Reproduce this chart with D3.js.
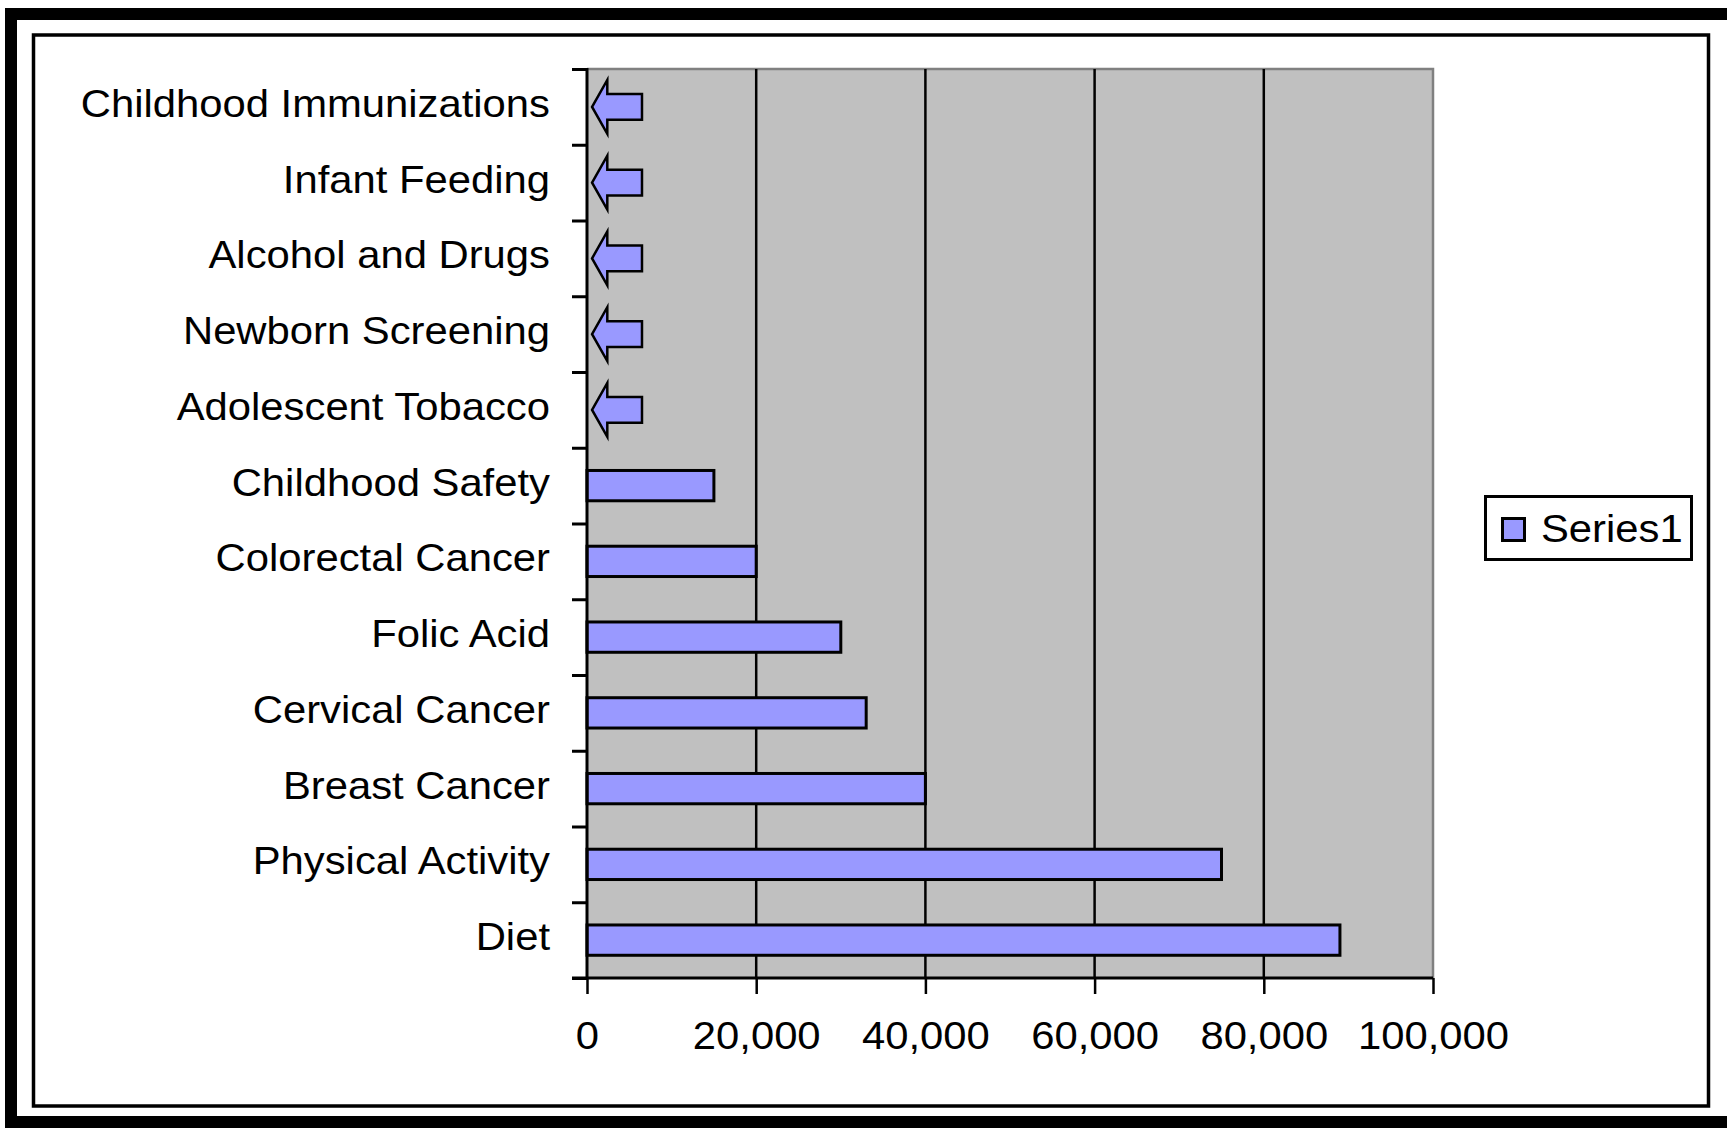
<!DOCTYPE html>
<html>
<head>
<meta charset="utf-8">
<script src="https://cdn.jsdelivr.net/npm/d3@7"></script>
<style>
  body { margin: 0; background: #fff; }
  svg { display: block; }
  text { font-family: "Liberation Sans", Arial, sans-serif; fill: #000; }
</style>
</head>
<body>
<svg id="chart" width="1727" height="1130"></svg>
<script>
// Program reach by topic (top to bottom as listed)
const categories = [
  "Childhood Immunizations", "Infant Feeding", "Alcohol and Drugs",
  "Newborn Screening", "Adolescent Tobacco", "Childhood Safety",
  "Colorectal Cancer", "Folic Acid", "Cervical Cancer",
  "Breast Cancer", "Physical Activity", "Diet"
];
const values = [0, 0, 0, 0, 0, 15000, 20000, 30000, 33000, 40000, 75000, 89000];
// Topics marked with an arrow instead of a bar
const flagged = [
  "Childhood Immunizations", "Infant Feeding", "Alcohol and Drugs",
  "Newborn Screening", "Adolescent Tobacco"
];
const xTicks = [0, 20000, 40000, 60000, 80000, 100000];
const seriesName = "Series1";

const BAR_FILL = "#9999FF";
const PLOT_BG = "#C0C0C0";
const FONT_SIZE = 38;
const STRETCH = "scale(1.1,1)";

const svg = d3.select("#chart");
const plot = { left: 587, right: 1433, top: 69, bottom: 978 };

// Outer heavy frame (right edge runs off the page)
svg.append("rect")
  .attr("x", 11).attr("y", 14).attr("width", 1760).attr("height", 1108)
  .attr("fill", "none").attr("stroke", "#000").attr("stroke-width", 12);

// Chart area border
svg.append("rect")
  .attr("x", 33.5).attr("y", 35).attr("width", 1675).attr("height", 1071)
  .attr("fill", "#fff").attr("stroke", "#000").attr("stroke-width", 3.5);

const x = d3.scaleLinear().domain([0, 100000]).range([plot.left, plot.right]);
const y = d3.scaleBand().domain(categories).range([plot.top, plot.bottom])
  .paddingInner(0.6).paddingOuter(0.3);
const slot = d3.scaleLinear().domain([0, categories.length]).range([plot.top, plot.bottom]);
const step = y.step();

// Plot background
svg.append("rect")
  .attr("x", plot.left).attr("y", plot.top)
  .attr("width", plot.right - plot.left).attr("height", plot.bottom - plot.top)
  .attr("fill", PLOT_BG);
// Plot border (top and right visible)
svg.append("path")
  .attr("d", `M${plot.left},${plot.top}H${plot.right}V${plot.bottom}`)
  .attr("fill", "none").attr("stroke", "#808080").attr("stroke-width", 2.5);

// Vertical gridlines
svg.append("g").selectAll("line")
  .data(xTicks.filter(d => d > 0 && d < 100000))
  .join("line")
  .attr("x1", d => x(d)).attr("x2", d => x(d))
  .attr("y1", plot.top).attr("y2", plot.bottom)
  .attr("stroke", "#000").attr("stroke-width", 2.5);

// Bars
svg.append("g").selectAll("rect")
  .data(categories.map((c, i) => ({ c, v: values[i] })).filter(d => d.v > 0))
  .join("rect")
  .attr("x", x(0))
  .attr("y", d => y(d.c))
  .attr("width", d => x(d.v) - x(0))
  .attr("height", y.bandwidth())
  .attr("fill", BAR_FILL)
  .attr("stroke", "#000").attr("stroke-width", 3);

// Left-pointing arrows for flagged topics
const arrowPath = c => {
  const cy = y(c) + y.bandwidth() / 2;
  const tip = x(600), base = x(2400), tail = x(6500);
  const hh = step * 0.355, sh = step * 0.17;
  return `M${tip},${cy}L${base},${cy - hh}V${cy - sh}H${tail}V${cy + sh}H${base}V${cy + hh}Z`;
};
svg.append("g").selectAll("path")
  .data(flagged)
  .join("path")
  .attr("d", arrowPath)
  .attr("fill", BAR_FILL)
  .attr("stroke", "#000").attr("stroke-width", 2.5)
  .attr("stroke-linejoin", "miter");

// Category axis: ticks on slot boundaries
const yAxis = svg.append("g")
  .attr("transform", `translate(${plot.left},0)`)
  .call(d3.axisLeft(slot).tickValues(d3.range(categories.length + 1))
    .tickSize(15).tickFormat(""));
yAxis.select(".domain").remove();
yAxis.selectAll(".tick line").attr("stroke", "#000").attr("stroke-width", 3);

// Category labels
const labels = svg.append("g").selectAll("g")
  .data(categories)
  .join("g")
  .attr("transform", d => `translate(550,${y(d) + y.bandwidth() / 2 + 10})`);
labels.append("text")
  .attr("transform", STRETCH)
  .attr("text-anchor", "end")
  .attr("font-size", FONT_SIZE)
  .text(d => d);

// Value axis
const xAxis = svg.append("g")
  .attr("transform", `translate(0,${plot.bottom})`)
  .call(d3.axisBottom(x).tickValues(xTicks).tickSize(16).tickFormat(d3.format(",")));
xAxis.select(".domain").remove();
xAxis.selectAll(".tick line").attr("stroke", "#000").attr("stroke-width", 2.5);
xAxis.selectAll(".tick text")
  .attr("y", 71).attr("dy", null)
  .attr("transform", STRETCH)
  .attr("font-size", FONT_SIZE)
  .attr("font-family", null)
  .attr("fill", "#000");

// Axis lines
svg.append("line")
  .attr("x1", plot.left).attr("x2", plot.left)
  .attr("y1", plot.top - 1).attr("y2", plot.bottom)
  .attr("stroke", "#000").attr("stroke-width", 3);
svg.append("line")
  .attr("x1", plot.left - 15).attr("x2", plot.right)
  .attr("y1", plot.bottom).attr("y2", plot.bottom)
  .attr("stroke", "#000").attr("stroke-width", 3);

// Legend
const legend = svg.append("g");
legend.append("rect")
  .attr("x", 1485.5).attr("y", 496.5).attr("width", 206).attr("height", 63)
  .attr("fill", "#fff").attr("stroke", "#000").attr("stroke-width", 3);
legend.append("rect")
  .attr("x", 1502.5).attr("y", 518.5).attr("width", 22).attr("height", 22)
  .attr("fill", BAR_FILL).attr("stroke", "#000").attr("stroke-width", 3);
legend.append("g")
  .attr("transform", "translate(1541,542)")
  .append("text")
  .attr("transform", STRETCH)
  .attr("font-size", FONT_SIZE)
  .text(seriesName);
</script>
</body>
</html>
